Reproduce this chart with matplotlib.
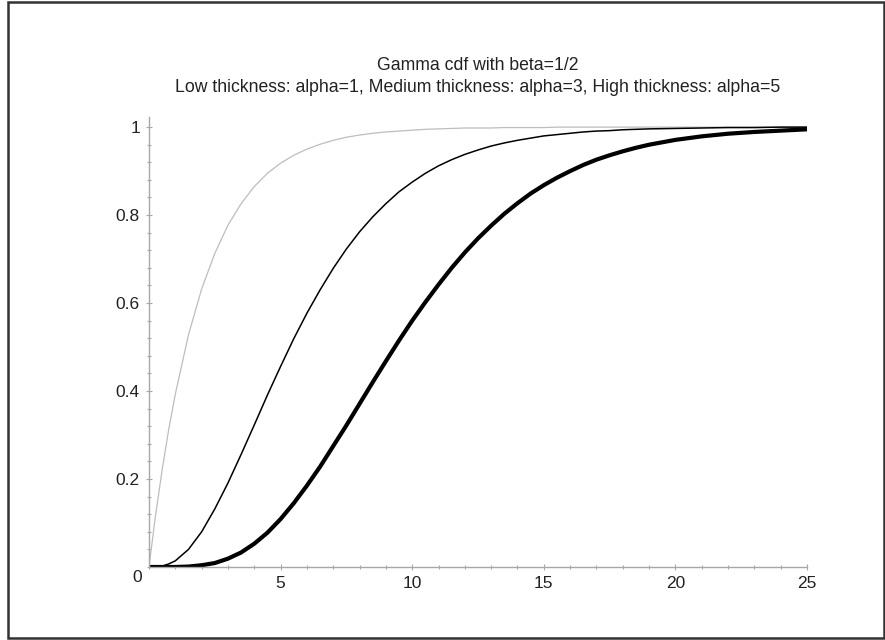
import matplotlib
matplotlib.use("Agg")
import matplotlib.pyplot as plt
from matplotlib.patches import Rectangle
from matplotlib.ticker import MultipleLocator

# values (gamma cdf, beta=1/2)
x = [0, 0.25, 0.5, 0.75, 1, 1.5, 2, 2.5, 3, 3.5, 4, 4.5, 5, 5.5, 6, 6.5, 7, 7.5,
     8, 8.5, 9, 9.5, 10, 10.5, 11, 11.5, 12, 12.5, 13, 13.5, 14, 14.5, 15, 15.5,
     16, 16.5, 17, 17.5, 18, 18.5, 19, 20, 21, 22, 23, 24, 25]
low_alpha1 = [0, 0.118, 0.221, 0.313, 0.393, 0.528, 0.632, 0.713, 0.777, 0.826,
              0.865, 0.895, 0.918, 0.936, 0.950, 0.961, 0.970, 0.977, 0.982, 0.986,
              0.989, 0.991, 0.993, 0.995, 0.996, 0.997, 0.998, 0.998, 0.998, 0.999,
              0.999, 0.999, 0.999, 1.0, 1.0, 1.0, 1.0, 1.0, 1.0, 1.0, 1.0,
              1.0, 1.0, 1.0, 1.0, 1.0, 1.0]
medium_alpha3 = [0, 0.0, 0.002, 0.007, 0.014, 0.040, 0.080, 0.132, 0.191, 0.256,
                 0.323, 0.391, 0.456, 0.519, 0.577, 0.630, 0.679, 0.723, 0.762, 0.796,
                 0.826, 0.853, 0.875, 0.895, 0.912, 0.926, 0.938, 0.948, 0.957, 0.964,
                 0.970, 0.975, 0.980, 0.983, 0.986, 0.989, 0.991, 0.992, 0.994, 0.995,
                 0.996, 0.997, 0.998, 0.999, 0.999, 1.0, 1.0]
high_alpha5 = [0, 0.0, 0.0, 0.0, 0.0, 0.001, 0.004, 0.009, 0.019, 0.033,
               0.053, 0.078, 0.109, 0.145, 0.185, 0.228, 0.275, 0.322, 0.371, 0.420,
               0.468, 0.515, 0.560, 0.602, 0.642, 0.680, 0.715, 0.747, 0.776, 0.803,
               0.827, 0.849, 0.868, 0.885, 0.900, 0.914, 0.926, 0.936, 0.945, 0.953,
               0.960, 0.971, 0.979, 0.985, 0.989, 0.992, 0.995]

title_lines = ["Gamma cdf with beta=1/2",
               "Low thickness: alpha=1, Medium thickness: alpha=3, High thickness: alpha=5"]
yticks = [0.2, 0.4, 0.6, 0.8, 1.0]
ytick_labels = ["0.2", "0.4", "0.6", "0.8", "1"]
xticks = [5, 10, 15, 20, 25]

plt.rcParams["font.family"] = ["Liberation Sans", "DejaVu Sans"]
W, H = 885, 640
fig = plt.figure(figsize=(W / 100, H / 100), dpi=100)
ax = fig.add_axes([149 / W, 73 / H, (807 - 149) / W, 450 / H])

ax.plot(x, low_alpha1, color="#bdbdbd", lw=0.9)
ax.plot(x, medium_alpha3, color="black", lw=1.1)
ax.plot(x, high_alpha5, color="black", lw=3.0, solid_capstyle="butt")

ax.set_xlim(0, 25)
ax.set_ylim(0, 1.023)
axis_gray = "#a8a8a8"
for side in ["top", "right"]:
    ax.spines[side].set_visible(False)
for side in ["left", "bottom"]:
    ax.spines[side].set_color(axis_gray)
    ax.spines[side].set_linewidth(1.0)

ax.set_xticks(xticks)
ax.set_yticks(yticks)
ax.set_yticklabels(ytick_labels)
ax.xaxis.set_minor_locator(MultipleLocator(1))
ax.yaxis.set_minor_locator(MultipleLocator(0.04))
ax.tick_params(which="both", direction="inout", color=axis_gray, width=0.8,
               labelsize=12.5, labelcolor="#222222")
ax.tick_params(which="major", length=5)
ax.tick_params(which="minor", length=3)
ax.tick_params(axis="y", pad=4)
ax.tick_params(axis="x", pad=4)
ax.annotate("0", (0, 0), xytext=(-12, -10), textcoords="offset pixels",
            ha="center", va="center", fontsize=12.5, color="#222222")

fig.text(478 / W, 1 - 65 / H, title_lines[0], ha="center", va="center",
         fontsize=12.7, color="#222222")
fig.text(478 / W, 1 - 87 / H, title_lines[1], ha="center", va="center",
         fontsize=12.7, color="#222222")

fig.patches.append(Rectangle((8 / W, 2 / H), (884 - 8) / W, (638 - 2) / H,
                             transform=fig.transFigure, fill=False,
                             edgecolor="#333333", lw=1.8))

fig.savefig("out.png", dpi=100)
